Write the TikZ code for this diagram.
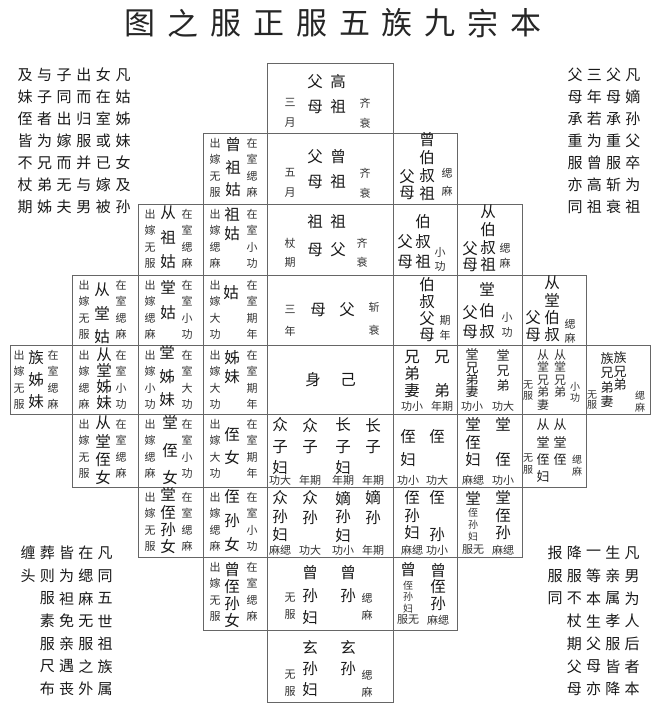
\documentclass[tikz,border=0pt]{standalone}
\usepackage{fontspec}
\setmainfont{Noto Sans CJK SC}

\def\cellx{{10,72,138,203,267,393,457,522,586,650}}
\def\celly{{63,133,204,275,345,414,487,557,630,702}}
\newcommand\sidecell[5]{%
  \node[sm] (#1-l) at (#2+12,#3+35) {#4};
  \node[sm] (#1-r) at (#2+49,#3+35) {#5};}

\begin{document}
\begin{tikzpicture}[x=1pt, y=-1pt,
  cellline/.style={draw=black!60, line width=1pt},
  ttl/.style={inner sep=0pt, text=black!85, font=\fontsize{31}{31}\selectfont},
  note/.style={inner sep=0pt, text=black!90, font=\fontsize{15}{15}\selectfont},
  bg/.style={inner sep=0pt, align=center, text=black!90, font=\fontsize{15.5}{#1}\selectfont}, bg/.default=22,
  md/.style={inner sep=0pt, align=center, text=black!88, font=\fontsize{13}{#1}\selectfont}, md/.default=14,
  sm/.style={inner sep=0pt, align=center, text=black!80, font=\fontsize{11}{#1}\selectfont}, sm/.default=16.5,
  xs/.style={inner sep=0pt, align=center, text=black!80, font=\fontsize{10}{#1}\selectfont}, xs/.default=11]
  \useasboundingbox (0,0) rectangle (662,705);

  % title
  \foreach \ch [count=\i from 0] in {图,之,服,正,服,五,族,九,宗,本}
    \node[ttl] (ttl-\i) at (140+42.9*\i,23) {\ch};

  % cells
  \foreach \rw/\a/\b in {1/4/4, 2/3/5, 3/2/6, 4/1/7, 5/0/8, 6/1/7, 7/2/6, 8/3/5, 9/4/4}
    \foreach \cl in {\a,...,\b} {
      \pgfmathsetmacro\xa{\cellx[\cl]}
      \pgfmathsetmacro\xb{\cellx[\cl+1]}
      \pgfmathsetmacro\ya{\celly[\rw-1]}
      \pgfmathsetmacro\yb{\celly[\rw]}
      \draw[cellline] (\xa,\ya) rectangle (\xb,\yb);
    }

  % notes at the corners
  \foreach \row [count=\rw from 0] in {{及,与,子,出,女,凡},{妹,子,同,而,在,姑},{侄,者,出,归,室,姊},{皆,为,嫁,服,或,妹},{不,兄,而,并,已,女},{杖,弟,无,与,嫁,及},{期,姊,夫,男,被,孙}}
    \foreach \ch [count=\cl from 0] in \row
      \node[note] (tl-\rw-\cl) at (25+19.6*\cl,75+22*\rw) {\ch};
  \foreach \row [count=\rw from 0] in {{父,三,父,凡},{母,年,母,嫡},{承,若,承,孙},{重,为,重,父},{服,曾,服,卒},{亦,高,斩,为},{同,祖,衰,祖}}
    \foreach \ch [count=\cl from 0] in \row
      \node[note] (tr-\rw-\cl) at (575+19.3*\cl,75+22*\rw) {\ch};
  \foreach \row [count=\rw from 0] in {{缠,葬,皆,在,凡},{头,则,为,缌,同}}
    \foreach \ch [count=\cl from 0] in \row
      \node[note] (bl-\rw-\cl) at (28+19.3*\cl,553+22.7*\rw) {\ch};
  \foreach \row [count=\rw from 2] in {{服,袒,麻,五},{素,免,无,世},{服,亲,服,祖},{尺,遇,之,族},{布,丧,外,属}}
    \foreach \ch [count=\cl from 1] in \row
      \node[note] (bl-\rw-\cl) at (28+19.3*\cl,553+22.7*\rw) {\ch};
  \foreach \row [count=\rw from 0] in {{报,降,一,生,凡},{服,服,等,亲,男},{同,不,本,属,为}}
    \foreach \ch [count=\cl from 0] in \row
      \node[note] (br-\rw-\cl) at (555+19.3*\cl,553+22.7*\rw) {\ch};
  \foreach \row [count=\rw from 3] in {{杖,生,孝,人},{期,父,服,后},{父,母,皆,者},{母,亦,降,本}}
    \foreach \ch [count=\cl from 1] in \row
      \node[note] (br-\rw-\cl) at (555+19.3*\cl,553+22.7*\rw) {\ch};

  % row 1
  \node[bg=25] (gzfm-a) at (315,94.5) {父\\母};
  \node[bg=25] (gzfm-b) at (338,94.5) {高\\祖};
  \node[sm=20] (gzfm-l) at (290,113) {三\\月};
  \node[sm=20] (gzfm-r) at (365,113) {齐\\衰};

  % row 2
  \sidecell{zzg}{203}{133}{出\\嫁\\无\\服}{在\\室\\缌\\麻}
  \node[bg=22.5] (zzg-n) at (233,167.5) {曾\\祖\\姑};
  \node[bg=25] (zzfm-a) at (315,169.5) {父\\母};
  \node[bg=25] (zzfm-b) at (338,169.5) {曾\\祖};
  \node[sm=20] (zzfm-l) at (290,183) {五\\月};
  \node[sm=20] (zzfm-r) at (365,183) {齐\\衰};
  \node[bg=17.7] (zbsz-a) at (427,166.5) {曾\\伯\\叔\\祖};
  \node[bg=16.5] (zbsz-b) at (407,184.5) {父\\母};
  \node[sm=18] (zbsz-r) at (447,182.5) {缌\\麻};

  % row 3
  \sidecell{czg}{138}{204}{出\\嫁\\无\\服}{在\\室\\缌\\麻}
  \node[bg=24.5] (czg-n) at (168,237.5) {从\\祖\\姑};
  \sidecell{zg}{203}{204}{出\\嫁\\缌\\麻}{在\\室\\小\\功}
  \node[bg=19] (zg-n) at (232,224) {祖\\姑};
  \node[bg=28] (zfm-a) at (315,236) {祖\\母};
  \node[bg=28] (zfm-b) at (338,236) {祖\\父};
  \node[sm=19] (zfm-l) at (290,252.5) {杖\\期};
  \node[sm=19] (zfm-r) at (362,252.5) {齐\\衰};
  \node[bg=20] (bsz-a) at (423,242) {伯\\叔\\祖};
  \node[bg=20] (bsz-b) at (405,252) {父\\母};
  \node[sm=14] (bsz-r) at (440,259) {小\\功};
  \node[bg=17.7] (cbsz-a) at (488,238.5) {从\\伯\\叔\\祖};
  \node[bg=16] (cbsz-b) at (470,256.5) {父\\母};
  \node[sm=15] (cbsz-r) at (505,255.5) {缌\\麻};

  % row 4
  \sidecell{ctg}{72}{275}{出\\嫁\\无\\服}{在\\室\\缌\\麻}
  \node[bg=23.5] (ctg-n) at (102,313.5) {从\\堂\\姑};
  \sidecell{tg}{138}{275}{出\\嫁\\缌\\麻}{在\\室\\小\\功}
  \node[bg=25] (tg-n) at (168,300.5) {堂\\姑};
  \sidecell{gu}{203}{275}{出\\嫁\\大\\功}{在\\室\\期\\年}
  \node[bg] (gu-n) at (231,293) {姑};
  \node[sm=22] (fm-l) at (290,321) {三\\年};
  \node[bg] (fm-a) at (318,310) {母};
  \node[bg] (fm-b) at (347,310) {父};
  \node[sm=23] (fm-r) at (374,318.5) {斩\\衰};
  \node[bg=16.7] (bsfm-a) at (427,310) {伯\\叔\\父\\母};
  \node[sm=15] (bsfm-r) at (445,327.5) {期\\年};
  \node[bg=21] (tbs-a) at (487,311) {堂\\伯\\叔};
  \node[bg=19] (tbs-b) at (470,322.5) {父\\母};
  \node[sm=15] (tbs-r) at (507,324.5) {小\\功};
  \node[bg=17.3] (ctbs-a) at (552,309) {从\\堂\\伯\\叔};
  \node[bg=17] (ctbs-b) at (533,326.5) {父\\母};
  \node[sm=14] (ctbs-r) at (570,331.5) {缌\\麻};

  % row 5
  \node[sm] (zzm-l) at (19,380) {出\\嫁\\无\\服};
  \node[bg=22] (zzm-n) at (36,380) {族\\姊\\妹};
  \node[sm] (zzm-r) at (53,380) {在\\室\\缌\\麻};
  \sidecell{ctzm}{72}{345}{出\\嫁\\缌\\麻}{在\\室\\小\\功}
  \node[bg=16] (ctzm-n) at (104,379) {从\\堂\\姊\\妹};
  \sidecell{tzm}{138}{345}{出\\嫁\\小\\功}{在\\室\\大\\功}
  \node[bg=23.5] (tzm-n) at (167,376.5) {堂\\姊\\妹};
  \sidecell{zm}{203}{345}{出\\嫁\\大\\功}{在\\室\\期\\年}
  \node[bg=19] (zm-n) at (232,367.5) {姊\\妹};
  \node[bg] (self-a) at (313,380) {身};
  \node[bg] (self-b) at (348,380) {己};
  \node[bg=17] (xd-a) at (412,374) {兄\\弟\\妻};
  \node[bg=34] (xd-b) at (442,374) {兄\\弟};
  \node[sm] (xd-la) at (412,406) {功小};
  \node[sm] (xd-lb) at (442,406) {年期};
  \node[md=12.3] (txd-a) at (472,373.5) {堂\\兄\\弟\\妻};
  \node[md=15] (txd-b) at (503,371) {堂\\兄\\弟};
  \node[sm] (txd-la) at (472,406) {功小};
  \node[sm] (txd-lb) at (503,406) {功大};
  \node[xs=12.5, font=\fontsize{12}{12.5}\selectfont] (ctxd-a) at (543,380) {从\\堂\\兄\\弟\\妻};
  \node[xs=12.5, font=\fontsize{12}{12.5}\selectfont] (ctxd-b) at (560,373.75) {从\\堂\\兄\\弟};
  \node[xs] (ctxd-l) at (528,391) {无\\服};
  \node[xs] (ctxd-r) at (575,392.5) {小\\功};
  \node[md=14.5] (zxd-a) at (607,380) {族\\兄\\弟\\妻};
  \node[md=13.5] (zxd-b) at (620,371.5) {族\\兄\\弟};
  \node[xs=10.5] (zxd-l) at (592,400) {无\\服};
  \node[xs=12] (zxd-r) at (640,402) {缌\\麻};

  % row 6
  \sidecell{ctzn}{72}{414}{出\\嫁\\无\\服}{在\\室\\缌\\麻}
  \node[bg=18.3] (ctzn-n) at (103,450.5) {从\\堂\\侄\\女};
  \sidecell{tzn}{138}{414}{出\\嫁\\缌\\麻}{在\\室\\小\\功}
  \node[bg=27.5] (tzn-n) at (170,450.5) {堂\\侄\\女};
  \sidecell{zn}{203}{414}{出\\嫁\\大\\功}{在\\室\\期\\年}
  \node[bg=23] (zn-n) at (232,446.5) {侄\\女};
  \node[bg=21.5] (zzf) at (280,446.5) {众\\子\\妇};
  \node[bg=21.5] (zz) at (310,436) {众\\子};
  \node[bg=21.5] (czf) at (343,446.5) {长\\子\\妇};
  \node[bg=21.5] (cz) at (373,436) {长\\子};
  \node[sm] (zzf-l) at (280,480) {功大};
  \node[sm] (zz-l) at (310,480) {年期};
  \node[sm] (czf-l) at (343,480) {年期};
  \node[sm] (cz-l) at (373,480) {年期};
  \node[bg=23] (zf-a) at (408,448.5) {侄\\妇};
  \node[bg] (zf-b) at (437,437) {侄};
  \node[sm] (zf-la) at (408,480) {功小};
  \node[sm] (zf-lb) at (437,480) {功大};
  \node[bg=17.5] (tzf-a) at (473,442.5) {堂\\侄\\妇};
  \node[bg=35] (tzf-b) at (503,442.5) {堂\\侄};
  \node[sm] (tzf-la) at (473,480) {麻缌};
  \node[sm] (tzf-lb) at (503,480) {功小};
  \node[md=17.3] (ctzf-a) at (543,451) {从\\堂\\侄\\妇};
  \node[md=17.3] (ctzf-b) at (560,442.3) {从\\堂\\侄};
  \node[xs=12] (ctzf-l) at (528,464) {无\\服};
  \node[xs=12] (ctzf-r) at (577,466) {缌\\麻};

  % row 7
  \sidecell{tzsn}{138}{487}{出\\嫁\\无\\服}{在\\室\\缌\\麻}
  \node[bg=17.3] (tzsn-n) at (168,521) {堂\\侄\\孙\\女};
  \sidecell{zsn}{203}{487}{出\\嫁\\缌\\麻}{在\\室\\小\\功}
  \node[bg=24] (zsn-n) at (232,521) {侄\\孙\\女};
  \node[bg=18.5] (zsf) at (280,516.5) {众\\孙\\妇};
  \node[bg=20] (zs) at (310,508) {众\\孙};
  \node[bg=18.5] (dsf) at (343,516.5) {嫡\\孙\\妇};
  \node[bg=20] (ds) at (373,508) {嫡\\孙};
  \node[sm] (zsf-l) at (280,550) {麻缌};
  \node[sm] (zs-l) at (310,550) {功大};
  \node[sm] (dsf-l) at (343,550) {功小};
  \node[sm] (ds-l) at (373,550) {年期};
  \node[bg=17.5] (zsf2-a) at (412,515.5) {侄\\孙\\妇};
  \node[bg=37] (zsf2-b) at (437,516.5) {侄\\孙};
  \node[sm] (zsf2-la) at (412,550) {麻缌};
  \node[sm] (zsf2-lb) at (437,550) {功小};
  \node[bg] (tzsf-a) at (473,498) {堂};
  \node[xs=12] (tzsf-c) at (473,525) {侄\\孙\\妇};
  \node[bg=17.5] (tzsf-b) at (503,515.5) {堂\\侄\\孙};
  \node[sm] (tzsf-la) at (473,550) {服无};
  \node[sm] (tzsf-lb) at (503,550) {麻缌};

  % row 8
  \sidecell{zzsn}{203}{557}{出\\嫁\\无\\服}{在\\室\\缌\\麻}
  \node[bg=16.7] (zzsn-n) at (232,595) {曾\\侄\\孙\\女};
  \node[bg=22.5] (zsnf) at (310,595.5) {曾\\孙\\妇};
  \node[bg=22.5] (zsun) at (348,584) {曾\\孙};
  \node[sm=17] (zsnf-l) at (290,606.5) {无\\服};
  \node[sm=17] (zsun-r) at (367,606.5) {缌\\麻};
  \node[bg] (zzsf-a) at (408,570) {曾};
  \node[xs=11.5] (zzsf-c) at (408,597) {侄\\孙\\妇};
  \node[bg=16.5] (zzsf-b) at (438,587) {曾\\侄\\孙};
  \node[sm] (zzsf-la) at (408,620) {服无};
  \node[sm] (zzsf-lb) at (438,620) {麻缌};

  % row 9
  \node[bg=21] (xsf) at (310,669) {玄\\孙\\妇};
  \node[bg=21] (xsun) at (348,658.5) {玄\\孙};
  \node[sm=17] (xsf-l) at (290,683.5) {无\\服};
  \node[sm=17] (xsun-r) at (367,683.5) {缌\\麻};
\end{tikzpicture}
\end{document}
